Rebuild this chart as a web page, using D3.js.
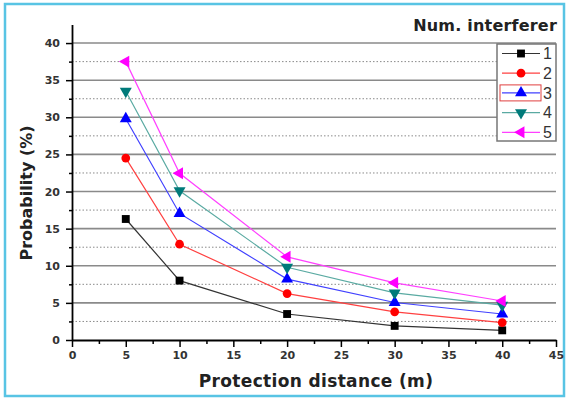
<!DOCTYPE html>
<html>
<head>
<meta charset="utf-8">
<script src="https://cdn.jsdelivr.net/npm/d3@7"></script>
<style>
  body { margin: 0; background: #fff; }
  svg { display: block; font-family: "Liberation Sans", Arial, sans-serif; }
</style>
</head>
<body>
<svg width="569" height="400"></svg>
<script>
// data
const distances = [5, 10, 20, 30, 40]
const seriesNames = ['1', '2', '3', '4', '5']
const s1 = [16.3, 8.0, 3.5, 1.9, 1.3]
const s2 = [24.5, 12.9, 6.25, 3.8, 2.35]
const s3 = [29.8, 17.05, 8.2, 5.05, 3.5]
const s4 = [33.5, 20.1, 9.8, 6.35, 4.7]
const s5 = [37.5, 22.45, 11.2, 7.7, 5.25]
const xTicks = [0, 5, 10, 15, 20, 25, 30, 35, 40, 45]
const yTicks = [0, 5, 10, 15, 20, 25, 30, 35, 40]

const allSeries = [s1, s2, s3, s4, s5]
const colors = ['#000000', '#ff0000', '#0000ff', '#007a7a', '#ff00ff']
const lineColors = ['#333333', '#ff4040', '#4040ff', '#5aaaa2', '#ff40ff']
const shapes = ['square', 'circle', 'up', 'down', 'left']

var width = 569, height = 400
var boldFont = '"DejaVu Sans", Verdana, sans-serif'

var svg = d3.select('svg')

// outer frame
svg.append('rect')
  .attr('x', 5).attr('y', 4)
  .attr('width', width - 10).attr('height', height - 8)
  .attr('fill', 'none')
  .attr('stroke', '#58c4e4')
  .attr('stroke-width', 2.5)

var x = d3.scaleLinear().domain([0, 45]).range([72, 556])
var y = d3.scaleLinear().domain([0, 42.5]).range([340, 24.5])

var legX = 497, legY = 44, legW = 59, legH = 97

// grid lines (stop at legend box)
var grid = svg.append('g')
d3.range(2.5, 42.5, 2.5).forEach(v => {
  var major = v % 5 === 0
  var x2 = (y(v) >= legY && y(v) <= legY + legH) ? legX : x(45)
  grid.append('line')
    .attr('x1', x(0)).attr('x2', x2)
    .attr('y1', y(v)).attr('y2', y(v))
    .attr('stroke', '#8a8a8a')
    .attr('stroke-width', major ? 1.6 : 1)
    .attr('stroke-dasharray', major ? null : '1.5,2')
})

// axes
svg.append('g')
  .attr('transform', `translate(0,${y(0)})`)
  .call(d3.axisBottom(x).tickValues(xTicks).tickSize(7).tickPadding(4).tickSizeOuter(0))
var xMinor = svg.append('g')
  .attr('transform', `translate(0,${y(0)})`)
  .call(d3.axisBottom(x).tickValues(d3.range(2.5, 45, 5)).tickSize(4).tickFormat('').tickSizeOuter(0))
xMinor.select('.domain').remove()

svg.append('g')
  .attr('transform', `translate(${x(0)},0)`)
  .call(d3.axisLeft(y).tickValues(yTicks).tickSize(6).tickPadding(6).tickSizeOuter(0))
var yMinor = svg.append('g')
  .attr('transform', `translate(${x(0)},0)`)
  .call(d3.axisLeft(y).tickValues(d3.range(2.5, 42.5, 5)).tickSize(3).tickFormat('').tickSizeOuter(0))
yMinor.select('.domain').remove()

svg.selectAll('.domain').attr('stroke', '#000').attr('stroke-width', 1.8)
svg.selectAll('.tick line').attr('stroke', '#000').attr('stroke-width', 1.5)
svg.selectAll('.tick text')
  .attr('font-size', 11)
  .attr('font-weight', 'bold')
  .attr('fill', '#333')
  .attr('font-family', boldFont)

// markers
var sym = {
  square: d3.symbolSquare,
  circle: d3.symbolCircle,
  up: d3.symbolTriangle,
  down: d3.symbolTriangle,
  left: d3.symbolTriangle
}
var rot = {square: 0, circle: 0, up: 0, down: 180, left: -90}
function marker(g, i, cx, cy) {
  g.append('path')
    .attr('d', d3.symbol().type(sym[shapes[i]]).size(shapes[i] === 'circle' ? 60 : 62)())
    .attr('transform', `translate(${cx},${cy}) rotate(${rot[shapes[i]]})`)
    .attr('fill', colors[i])
}

var line = d3.line().x(d => x(d[0])).y(d => y(d[1]))

allSeries.forEach((vals, i) => {
  var pts = distances.map((d, j) => [d, vals[j]])
  var g = svg.append('g')
  g.append('path')
    .attr('d', line(pts))
    .attr('fill', 'none')
    .attr('stroke', lineColors[i])
    .attr('stroke-width', 1.2)
  pts.forEach(p => marker(g, i, x(p[0]), y(p[1])))
})

// legend
var leg = svg.append('g')
leg.append('rect')
  .attr('x', legX).attr('y', legY)
  .attr('width', legW).attr('height', legH)
  .attr('fill', '#fff')
  .attr('stroke', '#777')
  .attr('stroke-width', 1.5)
seriesNames.forEach((name, i) => {
  var ly = 53.5 + i * 19.7
  if (i === 2) {
    leg.append('rect')
      .attr('x', 500).attr('y', ly - 8)
      .attr('width', 41).attr('height', 16)
      .attr('fill', 'none')
      .attr('stroke', '#e04040')
      .attr('stroke-width', 1)
  }
  leg.append('line')
    .attr('x1', 502).attr('x2', 540)
    .attr('y1', ly).attr('y2', ly)
    .attr('stroke', lineColors[i])
    .attr('stroke-width', 1.2)
  marker(leg, i, 521, ly)
  leg.append('text')
    .attr('x', 543).attr('y', ly)
    .attr('dy', '0.36em')
    .attr('font-size', 16)
    .attr('fill', '#333')
    .text(name)
})

// titles
svg.append('text')
  .attr('x', 557).attr('y', 31)
  .attr('text-anchor', 'end')
  .attr('font-size', 16)
  .attr('font-weight', 'bold')
  .attr('font-family', boldFont)
  .attr('letter-spacing', 0.2)
  .attr('fill', '#222')
  .text('Num. interferer')

svg.append('text')
  .attr('x', 316).attr('y', 387)
  .attr('text-anchor', 'middle')
  .attr('font-size', 17)
  .attr('font-weight', 'bold')
  .attr('font-family', boldFont)
  .attr('letter-spacing', 0.35)
  .attr('fill', '#222')
  .text('Protection distance (m)')

svg.append('text')
  .attr('transform', `translate(32,${193}) rotate(-90)`)
  .attr('text-anchor', 'middle')
  .attr('font-size', 16)
  .attr('font-weight', 'bold')
  .attr('font-family', boldFont)
  .attr('fill', '#222')
  .text('Probability (%)')
</script>
</body>
</html>
